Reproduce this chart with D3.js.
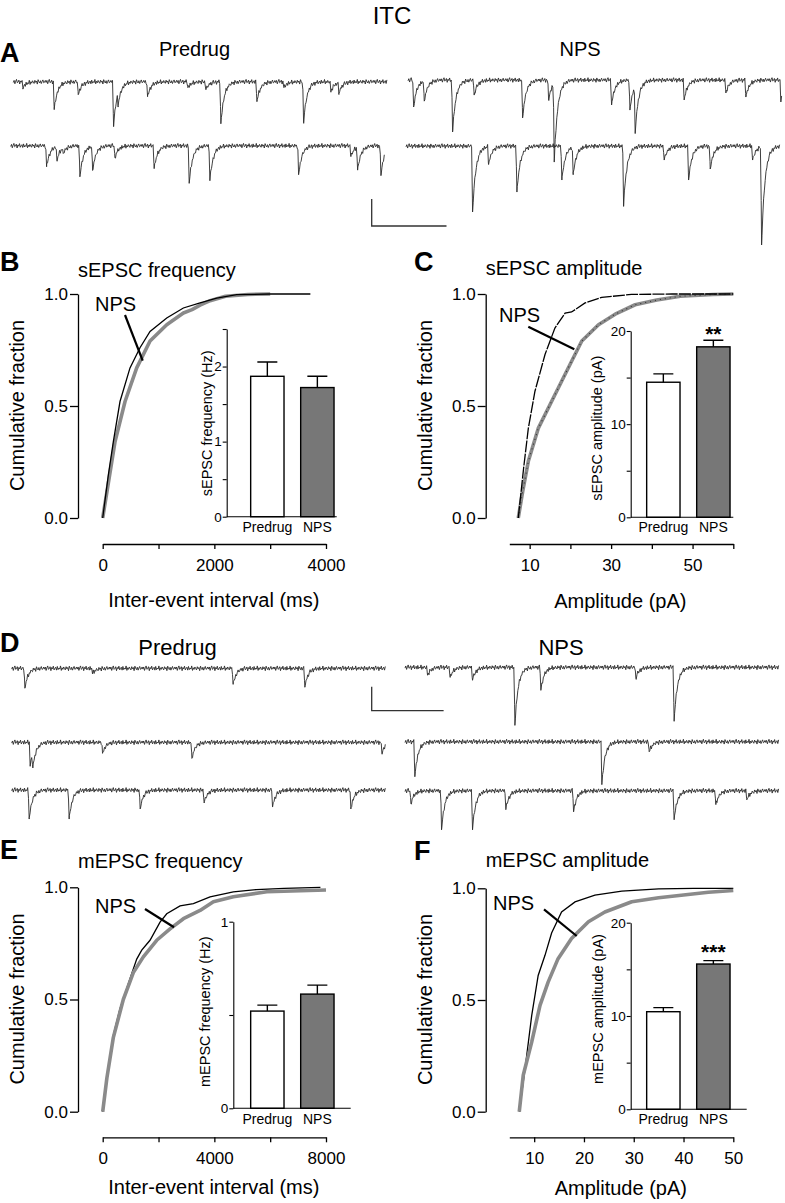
<!DOCTYPE html>
<html><head><meta charset="utf-8">
<script src="https://cdn.jsdelivr.net/npm/d3@7"></script>
<style>
body{margin:0;background:#fff}
svg{display:block}
</style>
</head><body>
<svg id="fig" width="785" height="1203"></svg>
<script>
// ---------------- DATA ----------------
const groups = ["Predrug", "NPS"];

// Cumulative distributions (x value, cumulative fraction)
const sFreqPreX = [0, 100, 190, 310, 489, 668, 848, 1147, 1445, 1744, 2043, 2400, 3000, 3720];
const sFreqPreY = [0, 0.19, 0.34, 0.52, 0.67, 0.76, 0.833, 0.893, 0.9375, 0.96, 0.982, 0.997, 1.0, 1.0];
const sFreqNpsX = [0, 110, 220, 400, 609, 848, 1147, 1445, 1600, 1744, 1923, 2200, 2600, 3000];
const sFreqNpsY = [0, 0.17, 0.34, 0.52, 0.67, 0.79, 0.863, 0.915, 0.93, 0.95, 0.97, 0.99, 0.998, 1.0];

const sAmpPreX = [7.2, 8.5, 9.67, 11.3, 13.77, 16.2, 18.7, 20.3, 23.6, 27.7, 35, 45, 60];
const sAmpPreY = [0, 0.22, 0.40, 0.566, 0.73, 0.848, 0.915, 0.92, 0.96, 0.985, 0.998, 1.0, 1.0];
const sAmpNpsX = [7.2, 8.3, 9.67, 12.1, 16.2, 20.3, 22.8, 26.9, 31, 35.9, 41.2, 47, 55, 60];
const sAmpNpsY = [0, 0.12, 0.253, 0.40, 0.55, 0.70, 0.79, 0.863, 0.91, 0.952, 0.973, 0.99, 0.998, 1.0];

const mFreqPreX = [0, 150, 380, 620, 978, 1219, 1398, 1695, 2054, 2294, 2771, 3249, 3846, 4681, 5500, 6500, 7800];
const mFreqPreY = [0, 0.15, 0.34, 0.459, 0.593, 0.68, 0.72, 0.764, 0.845, 0.882, 0.917, 0.927, 0.957, 0.98, 0.99, 0.995, 1.0];
const mFreqNpsX = [0, 150, 380, 738, 1097, 1456, 1935, 2413, 2891, 3488, 3965, 4681, 5878, 8000];
const mFreqNpsY = [0, 0.15, 0.33, 0.50, 0.62, 0.69, 0.764, 0.815, 0.86, 0.897, 0.936, 0.958, 0.98, 0.988];

const mAmpPreX = [7.0, 8.15, 9.5, 10.8, 12.17, 13.5, 15.5, 18.2, 22.2, 27.6, 35, 42, 50];
const mAmpPreY = [0, 0.19, 0.43, 0.61, 0.70, 0.80, 0.894, 0.939, 0.969, 0.987, 0.997, 1.0, 1.0];
const mAmpNpsX = [7.0, 7.8, 9.5, 11.17, 12.8, 14.8, 17.5, 20.9, 24.2, 29.6, 35, 40, 45, 50];
const mAmpNpsY = [0, 0.163, 0.312, 0.476, 0.58, 0.685, 0.775, 0.85, 0.894, 0.94, 0.958, 0.97, 0.982, 0.99];

// Bar insets (mean, SEM) per group
const sFreqMean = [1.87, 1.72], sFreqSem = [0.19, 0.15];
const sAmpMean  = [14.5, 18.3], sAmpSem  = [0.9, 0.7];
const mFreqMean = [0.521, 0.612], mFreqSem = [0.032, 0.048];
const mAmpMean  = [10.46, 15.57], mAmpSem  = [0.44, 0.36];

// Tick labels
const sFreqTicks = [0, 1000, 2000, 3000, 4000], sFreqTickLabels = [0, 2000, 4000];
const sAmpTicks  = [10, 20, 30, 40, 50, 60],    sAmpTickLabels  = [10, 30, 50];
const mFreqTicks = [0, 2000, 4000, 6000, 8000], mFreqTickLabels = [0, 4000, 8000];
const mAmpTicks  = [10, 20, 30, 40, 50],        mAmpTickLabels  = [10, 20, 30, 40, 50];
const cumTicks = [0, 0.5, 1.0];

// Example traces: events [time (ms), amplitude (pA)]
const sPre1 = [[116,4.4],[535,20.7],[856,9.6],[1329,33.3],[1390,9],[1783,11.1],[2322,4.4],[2563,5.9],[2763,31.1],[3245,14.8],[3606,4.4],[3869,30.4],[4234,7.4],[4341,8.1]];
const sPre2 = [[468,15.6],[606,10.4],[690,4],[913,23],[1083,17.8],[1381,8.9],[1906,17],[2374,27.9],[2651,25.9],[3837,21.5],[4536,8.1],[4626,17],[4937,22.2]];
const sNps1 = [[63,20],[205,14.8],[584,38.5],[873,11.1],[1520,28.1],[1868,14.8],[1943,58],[2710,18.5],[2955,22.2],[3025,34.6],[3680,14.8],[4238,9.6],[4505,12.6],[4973,16.3]];
const sNps2 = [[878,48.9],[1092,13.3],[1471,34.1],[2072,25.2],[2223,20.4],[2897,43.7],[3440,10.4],[3766,25.2],[4055,17],[4622,10.4],[4742,72.6]];
const mPre1 = [[171,8.3],[1112,2.1],[3067,6.7],[4064,7.9]];
const mPre2 = [[245,10],[282,6.3],[1251,4.6],[2493,6.7],[5135,4.6]];
const mPre3 = [[231,12.1],[787,12.1],[1774,7.9],[2664,5.4],[3615,7.1],[4704,7.9]];
const mNps1 = [[302,3.3],[616,4.2],[927,5.4],[1516,24.2],[1877,9.6],[3198,4.6],[3730,22.5]];
const mNps2 = [[125,14.6],[2725,17.9],[3383,4.2]];
const mNps3 = [[70,5.4],[496,16.3],[927,16.3],[1390,7.9],[2332,8.8],[3730,12.1],[4310,5.8],[4741,3.8]];
// baseline noise texture (unitless, hand typed)
const noisePattern = [0.3,-0.5,0.8,-0.2,-0.9,0.4,0.1,-0.6,0.9,-0.3,0.2,-0.8,0.6,0.0,-0.4,0.7,-0.7,0.5,-0.1,0.3,-0.9,0.8,-0.2,0.4,-0.5,0.1,0.6,-0.6,0.2,-0.3,0.9,-0.8,0.0,0.5,-0.4,0.7,-0.1,-0.7,0.4,0.2,-0.5];

// ---------------- DRAWING ----------------
const FONT = '"Liberation Sans", Arial, Helvetica, sans-serif';
const svg = d3.select("#fig");
const GRAY = "#8a8a8a";

function text(x, y, s, size, o = {}) {
  const t = svg.append("text").attr("x", x).attr("y", y).text(s)
    .attr("font-family", FONT).attr("font-size", size)
    .attr("text-anchor", o.anchor || "start")
    .attr("font-weight", o.bold ? "bold" : "normal").attr("fill", "#000");
  if (o.rotate) t.attr("transform", `rotate(-90,${x},${y})`);
  return t;
}

// Title & labels
text(392, 24, "ITC", 24, {anchor: "middle"});
text(0, 61.7, "A", 27, {bold: true});
text(194.5, 56, "Predrug", 20, {anchor: "middle"});
text(580, 56, "NPS", 20, {anchor: "middle"});
text(0, 270.7, "B", 27, {bold: true});
text(414, 270.7, "C", 27, {bold: true});
text(0, 651.7, "D", 27, {bold: true});
text(177.5, 655, "Predrug", 22, {anchor: "middle"});
text(561, 655, "NPS", 22, {anchor: "middle"});
text(0, 859, "E", 27, {bold: true});
text(414, 860, "F", 27, {bold: true});

// ---- traces ----
function psc(dt, rise, tau) {
  if (dt < 0) return 0;
  if (dt < rise) return dt / rise;
  return Math.exp(-(dt - rise) / tau);
}
function drawTrace(events, c) {
  const xs = d3.scaleLinear().domain([0, c.dur]).range([c.x0, c.x0 + c.width]);
  const ys = d3.scaleLinear().domain([0, c.barAmp]).range([c.base, c.base + c.barPx]);
  const rise = 12, tau = 45;
  const step = c.dur / c.width * 0.8;
  const pts = [];
  let k = 0;
  for (let t = 0; t <= c.dur; t += step, k++) pts.push({t, n: noisePattern[k % noisePattern.length] * c.noise});
  events.forEach(e => pts.push({t: e[0] + rise, n: 0}));
  pts.sort((a, b) => a.t - b.t);
  pts.forEach(p => {
    p.v = p.n + d3.sum(events, e => e[1] * psc(p.t - e[0], rise, tau));
  });
  svg.append("path").datum(pts)
    .attr("d", d3.line().x(p => xs(p.t)).y(p => ys(p.v)))
    .attr("fill", "none").attr("stroke", "#2a2a2a").attr("stroke-width", 0.9)
    .attr("stroke-linejoin", "round");
  return {xs, ys};
}
const cfgA = {dur: 5000, width: 374, barAmp: 20, barPx: 27, noise: 1.9};
const cfgD = {dur: 5200, width: 374, barAmp: 10, barPx: 24, noise: 1.1};
const ta = drawTrace(sPre1, {...cfgA, x0: 13.3, base: 81.7});
drawTrace(sPre2, {...cfgA, x0: 10.7, base: 145.7});
drawTrace(sNps1, {...cfgA, x0: 408, base: 80});
drawTrace(sNps2, {...cfgA, x0: 406, base: 146});
const td = drawTrace(mPre1, {...cfgD, x0: 11.7, base: 668.3});
drawTrace(mPre2, {...cfgD, x0: 11.7, base: 742.3});
drawTrace(mPre3, {...cfgD, x0: 11.7, base: 790});
drawTrace(mNps1, {...cfgD, x0: 405, base: 667.3});
drawTrace(mNps2, {...cfgD, x0: 405, base: 741.7});
drawTrace(mNps3, {...cfgD, x0: 405, base: 790.7});

function scaleBar(x, yBottom, tr, c) {
  const h = tr.ys(c.barAmp) - tr.ys(0);
  const w = tr.xs(1000) - tr.xs(0);
  svg.append("path").attr("d", `M${x},${yBottom - h}V${yBottom}H${x + w}`)
    .attr("fill", "none").attr("stroke", "#333").attr("stroke-width", 1.3);
}
scaleBar(371.7, 226, ta, cfgA);
scaleBar(371.7, 710.7, td, cfgD);

// ---- cumulative panels ----
function styleAxis(g, size) {
  g.attr("font-family", FONT);
  g.selectAll("path,line").attr("stroke", "#000").attr("stroke-width", 1.3);
  g.selectAll("text").attr("font-size", size).attr("fill", "#000");
}
function cdfPanel(c) {
  const x = d3.scaleLinear().domain(c.xDomain).range(c.xRange);
  const y = d3.scaleLinear().domain([0, 1]).range(c.yRange);
  const gy = svg.append("g").attr("transform", `translate(${c.yAxisX},0)`)
    .call(d3.axisLeft(y).tickValues(cumTicks).tickFormat(d3.format(".1f")).tickSize(8).tickPadding(2).tickSizeOuter(0));
  styleAxis(gy, 17);
  const gx = svg.append("g").attr("transform", `translate(0,${c.xAxisY})`)
    .call(d3.axisBottom(x).tickValues(c.xTicks).tickFormat(d => c.xLabels.includes(d) ? d : "").tickSize(5).tickPadding(10).tickSizeOuter(0));
  styleAxis(gx, 17);
  text(c.yAxisX - 54, (c.yRange[0] + c.yRange[1]) / 2 - 0.5, "Cumulative fraction", 20, {anchor: "middle", rotate: true});
  text((c.xRange[0] + c.xRange[1]) / 2 + c.titleDx, c.xAxisY + c.titleDy, c.xTitle, 20, {anchor: "middle"});
  text(c.yAxisX, c.yRange[1] - c.headDy, c.head, 20);
  const line = d3.line().x(d => x(d[0])).y(d => y(d[1]));
  const pre = c.preX.map((v, i) => [v, c.preY[i]]);
  const nps = c.npsX.map((v, i) => [v, c.npsY[i]]);
  const drawPre = () => svg.append("path").datum(pre).attr("d", line).attr("fill", "none")
    .attr("stroke", "#000").attr("stroke-width", 1.3).attr("stroke-dasharray", c.preDash || null);
  const drawNps = () => {
    svg.append("path").datum(nps).attr("d", line).attr("fill", "none")
      .attr("stroke", GRAY).attr("stroke-width", 3.6).attr("stroke-linejoin", "round");
    if (c.npsDots) svg.append("path").datum(nps).attr("d", line).attr("fill", "none")
      .attr("stroke", "#333").attr("stroke-width", 1.1).attr("stroke-dasharray", "1,4");
  };
  if (c.preOnTop) { drawNps(); drawPre(); } else { drawPre(); drawNps(); }
  // NPS annotation
  text(c.npsLabel[0], c.npsLabel[1], "NPS", 20);
  svg.append("line").attr("x1", c.pointer[0]).attr("y1", c.pointer[1]).attr("x2", c.pointer[2]).attr("y2", c.pointer[3])
    .attr("stroke", "#000").attr("stroke-width", 2.2);
}

function inset(c) {
  const x = d3.scaleBand().domain(groups).range(c.band).paddingInner(1 / 3).paddingOuter(1 / 3);
  const y = d3.scaleLinear().domain([0, c.yMax]).range([c.y0, c.y1]);
  const data = groups.map((g, i) => ({g, m: c.mean[i], s: c.sem[i]}));
  svg.selectAll(null).data(data).enter().append("rect")
    .attr("x", d => x(d.g)).attr("width", x.bandwidth())
    .attr("y", d => y(d.m)).attr("height", d => y(0) - y(d.m))
    .attr("fill", (d, i) => i === 0 ? "#fff" : "#777").attr("stroke", "#000").attr("stroke-width", 1.4);
  data.forEach(d => {
    const cx = x(d.g) + x.bandwidth() / 2;
    svg.append("path").attr("d", `M${cx},${y(d.m)}V${y(d.m + d.s)}M${cx - 10},${y(d.m + d.s)}H${cx + 10}`)
      .attr("stroke", "#000").attr("stroke-width", 1.4).attr("fill", "none");
    text(cx, c.catY, d.g, 14, {anchor: "middle"});
  });
  const gy = svg.append("g").attr("transform", `translate(${c.axisX},0)`)
    .call(d3.axisLeft(y).tickValues(c.ticks).tickFormat(d => c.labels.includes(d) ? d : "").tickSize(4).tickPadding(1).tickSizeOuter(0));
  styleAxis(gy, 13.5);
  gy.selectAll("path,line").attr("stroke-width", 1.1);
  svg.append("line").attr("x1", c.axisX).attr("x2", c.baseEnd).attr("y1", y(0)).attr("y2", y(0))
    .attr("stroke", "#000").attr("stroke-width", 1.1);
  text(c.labelX, c.labelY, c.ylabel, 14.5, {anchor: "middle", rotate: true});
  if (c.star) text(x("NPS") + x.bandwidth() / 2, c.starY, c.star, 21, {anchor: "middle", bold: true});
}

// B
cdfPanel({xDomain: [0, 4000], xRange: [102.7, 326], yRange: [518, 294], yAxisX: 78, xAxisY: 544,
  xTicks: sFreqTicks, xLabels: sFreqTickLabels, xTitle: "Inter-event interval (ms)", titleDx: -0.5, titleDy: 63,
  head: "sEPSC frequency", headDy: 17, preX: sFreqPreX, preY: sFreqPreY, npsX: sFreqNpsX, npsY: sFreqNpsY,
  preOnTop: true, npsLabel: [95, 311], pointer: [125, 315, 142.7, 360.7]});
inset({band: [234, 350.7], y0: 516.7, y1: 329, yMax: 2.5, mean: sFreqMean, sem: sFreqSem, axisX: 226.7, baseEnd: 336.7,
  ticks: [0, 0.5, 1, 1.5, 2, 2.5], labels: [0, 1, 2], catY: 532, ylabel: "sEPSC frequency (Hz)", labelX: 212, labelY: 423.3});

// C
cdfPanel({xDomain: [5, 60], xRange: [509.3, 733.3], yRange: [518, 294], yAxisX: 485.7, xAxisY: 544,
  xTicks: sAmpTicks, xLabels: sAmpTickLabels, xTitle: "Amplitude (pA)", titleDx: -1, titleDy: 64,
  head: "sEPSC amplitude", headDy: 19, preX: sAmpPreX, preY: sAmpPreY, npsX: sAmpNpsX, npsY: sAmpNpsY,
  preOnTop: true, preDash: "12,1.2", npsDots: true, npsLabel: [499, 321.7], pointer: [528.3, 326.7, 574.3, 349.3]});
inset({band: [630, 746.7], y0: 517.3, y1: 331, yMax: 20, mean: sAmpMean, sem: sAmpSem, axisX: 630.7, baseEnd: 733.3,
  ticks: [0, 5, 10, 15, 20], labels: [0, 10, 20], catY: 532, ylabel: "sEPSC amplitude (pA)", labelX: 602, labelY: 428.3,
  star: "**", starY: 341});

// E
cdfPanel({xDomain: [0, 8000], xRange: [102.7, 326], yRange: [1111.7, 887.3], yAxisX: 78, xAxisY: 1137.3,
  xTicks: mFreqTicks, xLabels: mFreqTickLabels, xTitle: "Inter-event interval (ms)", titleDx: -0.5, titleDy: 57,
  head: "mEPSC frequency", headDy: 19.5, preX: mFreqPreX, preY: mFreqPreY, npsX: mFreqNpsX, npsY: mFreqNpsY,
  preOnTop: false, npsLabel: [95, 913], pointer: [145, 909, 174, 927.3]});
inset({band: [234, 350.7], y0: 1108.3, y1: 921.7, yMax: 1, mean: mFreqMean, sem: mFreqSem, axisX: 233.3, baseEnd: 350.7,
  ticks: [0, 0.5, 1], labels: [0, 1], catY: 1124, ylabel: "mEPSC frequency (Hz)", labelX: 210, labelY: 1011.7});

// F
cdfPanel({xDomain: [5, 50], xRange: [509.3, 733.3], yRange: [1111.7, 888.3], yAxisX: 485.7, xAxisY: 1137.3,
  xTicks: mAmpTicks, xLabels: mAmpTickLabels, xTitle: "Amplitude (pA)", titleDx: -0.5, titleDy: 58,
  head: "mEPSC amplitude", headDy: 21, preX: mAmpPreX, preY: mAmpPreY, npsX: mAmpNpsX, npsY: mAmpNpsY,
  preOnTop: false, npsLabel: [493, 910], pointer: [544, 909.3, 576.7, 936]});
inset({band: [630, 746.7], y0: 1109.3, y1: 922.7, yMax: 20, mean: mAmpMean, sem: mAmpSem, axisX: 630.7, baseEnd: 746.7,
  ticks: [0, 5, 10, 15, 20], labels: [0, 10, 20], catY: 1124, ylabel: "mEPSC amplitude (pA)", labelX: 603, labelY: 1009,
  star: "***", starY: 959});
</script>
</body></html>
